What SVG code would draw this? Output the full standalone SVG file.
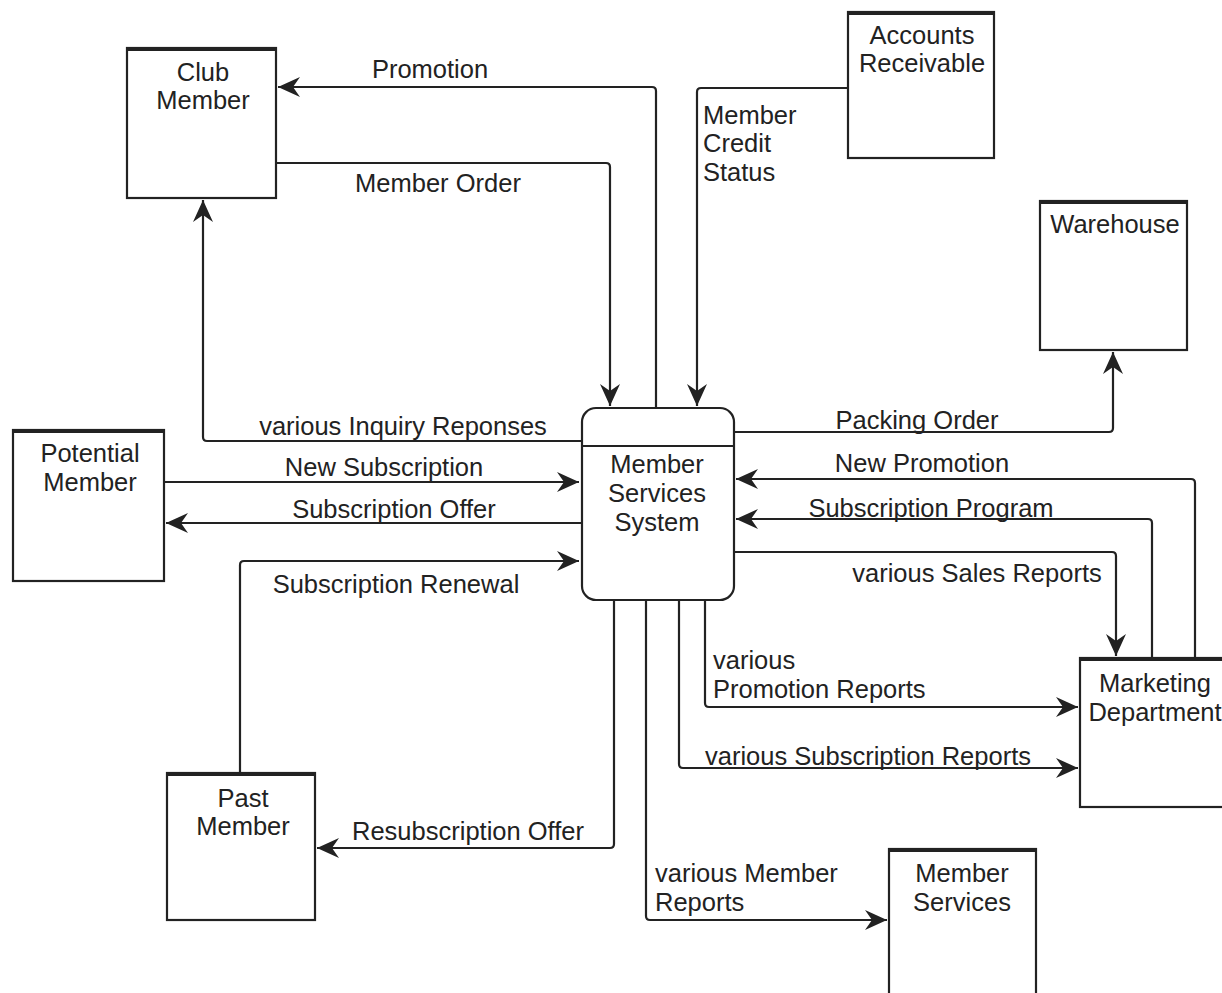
<svg xmlns="http://www.w3.org/2000/svg" width="1222" height="993" viewBox="0 0 1222 993">
<style>
.box{fill:#fff;stroke:#222;stroke-width:2.2}
.top{stroke:#222;stroke-width:4}
.t{font-family:"Liberation Sans",Arial,sans-serif;font-size:25.5px;fill:#222;text-anchor:middle}
.l{text-anchor:start}
.c{fill:none;stroke:#222;stroke-width:2.2;stroke-linejoin:round}
</style>
<defs>
<marker id="a" markerUnits="userSpaceOnUse" markerWidth="23" markerHeight="21" refX="22" refY="10" orient="auto" viewBox="0 0 23 20">
<path d="M0,0 L22,10 L0,20 L7,10 z" fill="#222"/>
</marker>
</defs>
<rect width="1222" height="993" fill="#fff"/>
<g id="connectors">
<path class="c" marker-end="url(#a)" d="M656,408 V91 Q656,87 652,87 H278"/>
<path class="c" marker-end="url(#a)" d="M276,163 H606 Q610,163 610,167 V406"/>
<path class="c" marker-end="url(#a)" d="M847,88 H701 Q697,88 697,92 V406"/>
<path class="c" marker-end="url(#a)" d="M734,432 H1109 Q1113,432 1113,428 V352"/>
<path class="c" marker-end="url(#a)" d="M581,441 H207 Q203,441 203,437 V200"/>
<path class="c" marker-end="url(#a)" d="M164,482 H579"/>
<path class="c" marker-end="url(#a)" d="M581,523 H166"/>
<path class="c" marker-end="url(#a)" d="M240,773 V565 Q240,561 244,561 H579"/>
<path class="c" marker-end="url(#a)" d="M614,600 V844 Q614,848 610,848 H317"/>
<path class="c" marker-end="url(#a)" d="M1195,658 V483 Q1195,479 1191,479 H736"/>
<path class="c" marker-end="url(#a)" d="M1152,658 V523 Q1152,519 1148,519 H736"/>
<path class="c" marker-end="url(#a)" d="M734,552 H1112 Q1116,552 1116,556 V656"/>
<path class="c" marker-end="url(#a)" d="M705,600 V703 Q705,707 709,707 H1078"/>
<path class="c" marker-end="url(#a)" d="M679,600 V764 Q679,768 683,768 H1078"/>
<path class="c" marker-end="url(#a)" d="M646,600 V916 Q646,920 650,920 H887"/>
</g>
<g id="labels">
<text class="t" x="430" y="78">Promotion</text>
<text class="t" x="438" y="192">Member Order</text>
<text class="t l" x="703" y="124">Member</text>
<text class="t l" x="703" y="152">Credit</text>
<text class="t l" x="703" y="181">Status</text>
<text class="t" x="403" y="435">various Inquiry Reponses</text>
<text class="t" x="384" y="476">New Subscription</text>
<text class="t" x="394" y="518">Subscription Offer</text>
<text class="t" x="396" y="593">Subscription Renewal</text>
<text class="t" x="468" y="840">Resubscription Offer</text>
<text class="t" x="917" y="429">Packing Order</text>
<text class="t" x="922" y="472">New Promotion</text>
<text class="t" x="931" y="517">Subscription Program</text>
<text class="t" x="977" y="582">various Sales Reports</text>
<text class="t l" x="713" y="669">various</text>
<text class="t l" x="713" y="698">Promotion Reports</text>
<text class="t" x="868" y="765">various Subscription Reports</text>
<text class="t l" x="655" y="882">various Member</text>
<text class="t l" x="655" y="911">Reports</text>
</g>
<g id="process">
<rect class="box" x="582" y="408" width="152" height="192" rx="14"/>
<line x1="582" y1="446" x2="734" y2="446" stroke="#222" stroke-width="2"/>
<text class="t" x="657" y="473">Member</text>
<text class="t" x="657" y="502">Services</text>
<text class="t" x="657" y="531">System</text>
</g>
<g id="club-member">
<rect class="box" x="127" y="48" width="149" height="150"/>
<line class="top" x1="127" y1="49" x2="276" y2="49"/>
<text class="t" x="203" y="81">Club</text>
<text class="t" x="203" y="109">Member</text>
</g>
<g id="accounts-receivable">
<rect class="box" x="848" y="12" width="146" height="146"/>
<line class="top" x1="848" y1="13" x2="994" y2="13"/>
<text class="t" x="922" y="44">Accounts</text>
<text class="t" x="922" y="72">Receivable</text>
</g>
<g id="warehouse">
<rect class="box" x="1040" y="201" width="147" height="149"/>
<line class="top" x1="1040" y1="202" x2="1187" y2="202"/>
<text class="t" x="1115" y="233">Warehouse</text>
</g>
<g id="potential-member">
<rect class="box" x="13" y="430" width="151" height="151"/>
<line class="top" x1="13" y1="431" x2="164" y2="431"/>
<text class="t" x="90" y="462">Potential</text>
<text class="t" x="90" y="491">Member</text>
</g>
<g id="past-member">
<rect class="box" x="167" y="773" width="148" height="147"/>
<line class="top" x1="167" y1="774" x2="315" y2="774"/>
<text class="t" x="243" y="807">Past</text>
<text class="t" x="243" y="835">Member</text>
</g>
<g id="member-services">
<rect class="box" x="889" y="849" width="147" height="160"/>
<line class="top" x1="889" y1="850" x2="1036" y2="850"/>
<text class="t" x="962" y="882">Member</text>
<text class="t" x="962" y="911">Services</text>
</g>
<g id="marketing-department">
<rect class="box" x="1080" y="658" width="160" height="149"/>
<line class="top" x1="1080" y1="659" x2="1240" y2="659"/>
<text class="t" x="1155" y="692">Marketing</text>
<text class="t" x="1155" y="721">Department</text>
</g>
</svg>
